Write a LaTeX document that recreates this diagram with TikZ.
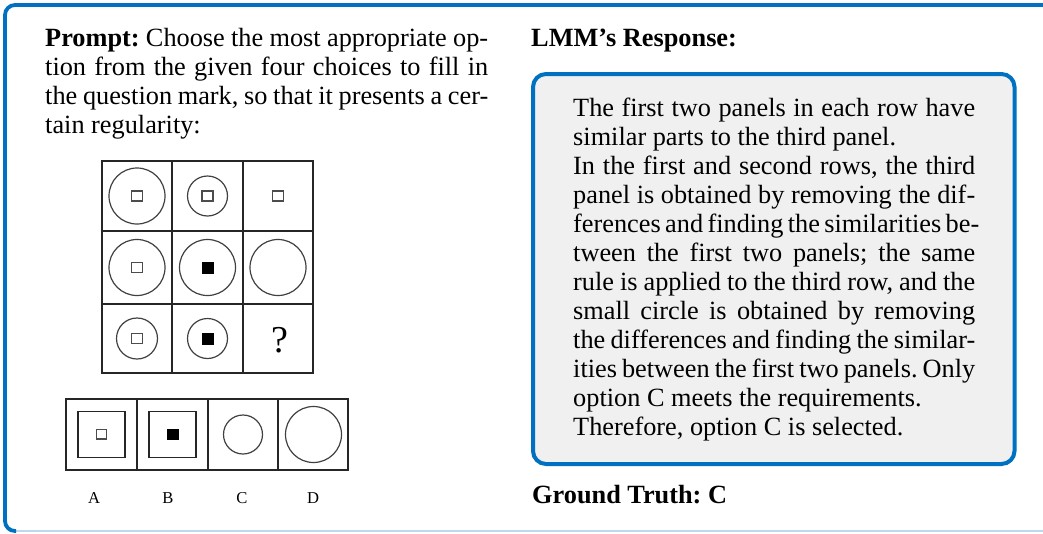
\documentclass[tikz,border=0pt]{standalone}
\usepackage{fontspec}
\setmainfont{Liberation Serif}
\definecolor{frameblue}{HTML}{0070C0}
\definecolor{framelight}{HTML}{C0D8EE}
\definecolor{boxgray}{HTML}{F0F0F0}
\newcommand{\bodysize}{\fontsize{26.3}{29}\selectfont\frenchspacing}
\tikzset{
  gridline/.style={line width=1.6pt, draw=black!85},
  ring/.style={line width=1.2pt, draw=black!75},
  hollowsq/.style={draw=black!70, line width=1.4pt, fill=white},
  solidsq/.style={fill=black},
  bodytext/.style={anchor=base west, inner sep=0pt, align=left},
  optlabel/.style={anchor=base, inner sep=0pt, font=\fontsize{16.6}{18}\selectfont},
}
\begin{document}
\begin{tikzpicture}[x=1pt,y=-1pt]
\useasboundingbox (0,0) rectangle (1043,533);

% outer frame (its right side runs past the page edge)
\begin{scope}
  \clip (0,0) rectangle (1043,533);
  \draw[framelight, line width=1.6pt, rounded corners=10pt] (5,5) rectangle (1080,531);
  \draw[frameblue, line width=3.8pt, rounded corners=10pt] (16,531) -- (5,531) -- (5,5) -- (1080,5);
\end{scope}

% left column: prompt
\node[bodytext] (prompt) at (45,46.5) {\parbox[t]{443pt}{\bodysize
\makebox[\linewidth][s]{\textbf{Prompt:} Choose the most appropriate op-}\\
\makebox[\linewidth][s]{tion from the given four choices to fill in}\\
\makebox[\linewidth][s]{the question mark, so that it presents a cer-}\\
tain regularity:}};

% 3x3 puzzle grid
\draw[gridline] (102,161) rectangle (313,373);
\draw[gridline] (172,161) -- (172,373);
\draw[gridline] (243,161) -- (243,373);
\draw[gridline] (102,231) -- (313,231);
\draw[gridline] (102,304) -- (313,304);

% row 1
\draw[ring] (137,196) circle (28pt);
\draw[hollowsq] (131.5,191) rectangle (142.5,201);
\draw[ring] (207.5,196) circle (20pt);
\draw[hollowsq] (202,191) rectangle (213,201);
\draw[hollowsq] (272.5,191) rectangle (283.5,201);
% row 2
\draw[ring] (137,267.5) circle (28pt);
\draw[hollowsq] (131.5,262.5) rectangle (142.5,272.5);
\draw[ring] (207.5,267.5) circle (28pt);
\fill[solidsq] (201.5,261.5) rectangle (213.5,273.5);
\draw[ring] (278,267.5) circle (28pt);
% row 3
\draw[ring] (137,338.5) circle (20.5pt);
\draw[hollowsq] (131.5,333.5) rectangle (142.5,343.5);
\draw[ring] (207.5,338.5) circle (20pt);
\fill[solidsq] (201.5,332.5) rectangle (213.5,344.5);
\node[anchor=base, inner sep=0pt] (qmark) at (280,352) {\fontsize{38}{38}\selectfont ?};

% answer options
\draw[gridline] (66,399) rectangle (348,470);
\draw[gridline] (137,399) -- (137,470);
\draw[gridline] (208,399) -- (208,470);
\draw[gridline] (278,399) -- (278,470);
\draw[gridline] (78,411.5) rectangle (125,457.5);
\draw[hollowsq] (96.5,429.5) rectangle (106.5,439);
\draw[gridline] (149,411.5) rectangle (196,457.5);
\fill[solidsq] (166.5,428.5) rectangle (178.5,440);
\draw[ring] (243,434.5) circle (19.5pt);
\draw[ring] (313.5,434.5) circle (28pt);

\node[optlabel] (la) at (94,503) {A};
\node[optlabel] (lb) at (168,503) {B};
\node[optlabel] (lc) at (242,503) {C};
\node[optlabel] (ld) at (313,503) {D};

% right column: response
\node[bodytext] (resphead) at (531,46.5) {\bodysize\textbf{LMM's Response:}};

\draw[frameblue, line width=4pt, fill=boxgray, rounded corners=13pt] (533,74) rectangle (1014.5,464);

\node[bodytext] (resp) at (573,116) {\parbox[t]{402pt}{\bodysize
\makebox[\linewidth][s]{The first two panels in each row have}\\
similar parts to the third panel.\\
\makebox[\linewidth][s]{In the first and second rows, the third}\\
\makebox[\linewidth][s]{panel is obtained by removing the dif-}\\
\makebox[\linewidth][s]{ferences and finding the similarities be-}\\
\makebox[\linewidth][s]{tween the first two panels; the same}\\
\makebox[\linewidth][s]{rule is applied to the third row, and the}\\
\makebox[\linewidth][s]{small circle is obtained by removing}\\
\makebox[\linewidth][s]{the differences and finding the similar-}\\
\makebox[\linewidth][s]{ities between the first two panels. Only}\\
option C meets the requirements.\\
Therefore, option C is selected.}};

\node[bodytext] (truth) at (532,503) {\bodysize\textbf{Ground Truth: C}};
\end{tikzpicture}
\end{document}
